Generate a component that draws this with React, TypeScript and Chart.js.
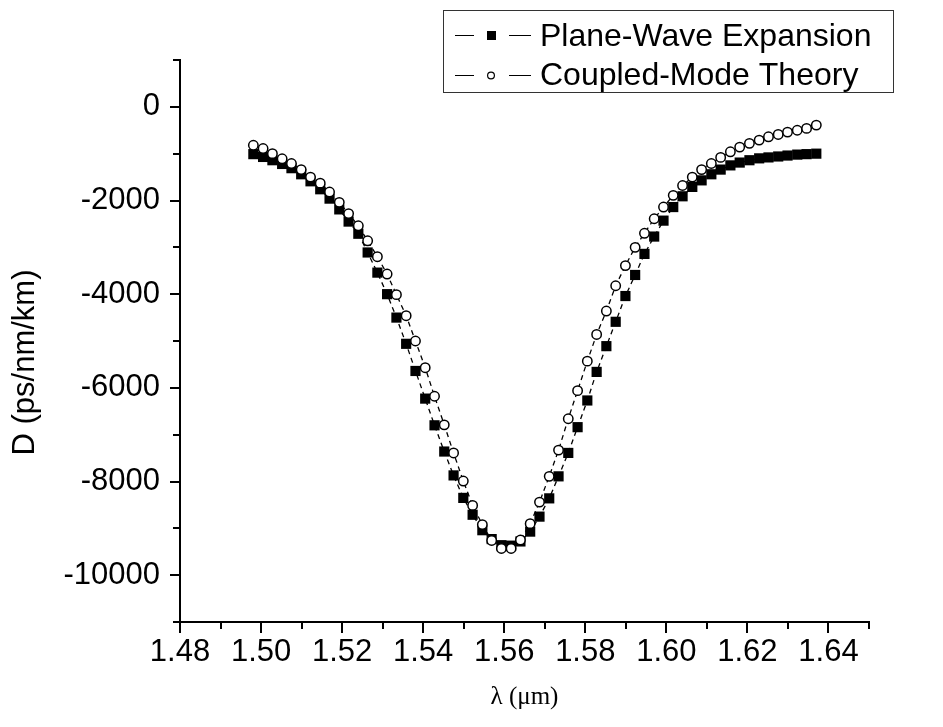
import React, { useEffect, useRef } from 'react';
import { Chart, registerables } from 'chart.js';

Chart.register(...registerables);

// Wavelength grid (µm)
const wavelength = [
  1.4981, 1.5005, 1.5028, 1.5052, 1.5075, 1.5099, 1.5122, 1.5146, 1.5169, 1.5193,
  1.5216, 1.5240, 1.5263, 1.5287, 1.5311, 1.5334, 1.5358, 1.5381, 1.5405, 1.5428,
  1.5452, 1.5475, 1.5499, 1.5522, 1.5546, 1.5569, 1.5593, 1.5617, 1.5640, 1.5664,
  1.5687, 1.5711, 1.5734, 1.5758, 1.5781, 1.5805, 1.5828, 1.5852, 1.5875, 1.5899,
  1.5923, 1.5946, 1.5970, 1.5993, 1.6017, 1.6040, 1.6064, 1.6087, 1.6111, 1.6134,
  1.6158, 1.6181, 1.6205, 1.6229, 1.6252, 1.6276, 1.6299, 1.6323, 1.6346, 1.6370,
];

// Plane-Wave Expansion dispersion (ps/nm/km)
const pweValues = [
  -1010, -1070, -1140, -1220, -1310, -1440, -1590, -1760, -1960, -2190,
  -2450, -2710, -3110, -3540, -4000, -4500, -5060, -5640, -6230, -6800,
  -7360, -7870, -8350, -8710, -9040, -9230, -9360, -9370, -9280, -9070,
  -8750, -8360, -7890, -7390, -6840, -6270, -5660, -5110, -4590, -4040,
  -3590, -3140, -2770, -2430, -2140, -1910, -1710, -1570, -1440, -1340,
  -1250, -1190, -1140, -1100, -1080, -1060, -1040, -1020, -1010, -1000,
];

// Coupled-Mode Theory dispersion (ps/nm/km)
const cmtValues = [
  -820, -890, -1000, -1110, -1210, -1340, -1500, -1630, -1820, -2040,
  -2280, -2540, -2860, -3200, -3570, -4010, -4460, -5000, -5570, -6180,
  -6790, -7390, -7990, -8510, -8920, -9260, -9430, -9430, -9250, -8900,
  -8440, -7890, -7330, -6660, -6060, -5430, -4860, -4360, -3820, -3390,
  -3000, -2700, -2390, -2140, -1890, -1680, -1500, -1340, -1210, -1080,
  -960, -860, -780, -710, -640, -590, -540, -500, -460, -390,
];

const seriesNames = ['Plane-Wave Expansion', 'Coupled-Mode Theory'];
const xTitle = 'λ (μm)';
const yTitle = 'D (ps/nm/km)';
const xRange = [1.48, 1.65];
const yRange = [-11000, 1000];

const SANS = '"Liberation Sans", Arial, sans-serif';
const SERIF = '"Liberation Serif", "Times New Roman", serif';

const isMajorX = (v: number) => Math.round(v * 100) % 2 === 0;
const isMajorY = (v: number) => Math.round(v) % 2000 === 0;

const tickMarksPlugin = {
  id: 'tickMarks',
  afterDraw(chart: any) {
    const ctx = chart.ctx;
    const xs = chart.scales.x;
    const ys = chart.scales.y;
    ctx.save();
    ctx.strokeStyle = '#000';
    ctx.lineWidth = 2;
    xs.ticks.forEach((t: any) => {
      const px = Math.round(xs.getPixelForValue(t.value));
      const len = isMajorX(t.value) ? 11 : 7;
      ctx.beginPath();
      ctx.moveTo(px, xs.top);
      ctx.lineTo(px, xs.top + len);
      ctx.stroke();
    });
    ys.ticks.forEach((t: any) => {
      const py = Math.round(ys.getPixelForValue(t.value));
      const len = isMajorY(t.value) ? 10 : 7;
      ctx.beginPath();
      ctx.moveTo(ys.right, py);
      ctx.lineTo(ys.right - len, py);
      ctx.stroke();
    });
    ctx.restore();
  },
};

const legendPlugin = {
  id: 'customLegend',
  afterDraw(chart: any) {
    const ctx = chart.ctx;
    const ds = chart.data.datasets;
    const box = { x: 443.5, y: 10.5, w: 450, h: 82 };
    ctx.save();
    ctx.fillStyle = '#fff';
    ctx.fillRect(box.x, box.y, box.w, box.h);
    ctx.strokeStyle = '#333';
    ctx.lineWidth = 1;
    ctx.strokeRect(box.x, box.y, box.w, box.h);
    const rows = [ds[1], ds[0]]; // PWE first, CMT second
    const rowY = [35, 75];
    const baselines = [45.5, 85];
    rows.forEach((d: any, i: number) => {
      const y = rowY[i];
      ctx.strokeStyle = '#000';
      ctx.lineWidth = 1;
      ctx.beginPath();
      ctx.moveTo(455, y + 0.5);
      ctx.lineTo(474, y + 0.5);
      ctx.moveTo(509, y + 0.5);
      ctx.lineTo(531, y + 0.5);
      ctx.stroke();
      if (d.pointStyle === 'rect') {
        ctx.fillStyle = '#000';
        ctx.fillRect(487, y - 4, 9, 9);
      } else {
        ctx.beginPath();
        ctx.arc(491, y + 0.5, 3.4, 0, Math.PI * 2);
        ctx.fillStyle = '#fff';
        ctx.fill();
        ctx.lineWidth = 1.2;
        ctx.strokeStyle = '#000';
        ctx.stroke();
      }
      ctx.fillStyle = '#000';
      ctx.font = `32px ${SANS}`;
      ctx.textBaseline = 'alphabetic';
      ctx.textAlign = 'left';
      ctx.fillText(d.label, 540, baselines[i]);
    });
    ctx.restore();
  },
};

export default function App() {
  const ref = useRef<HTMLCanvasElement>(null);

  useEffect(() => {
    const pwe = wavelength.map((x, i) => ({ x, y: pweValues[i] }));
    const cmt = wavelength.map((x, i) => ({ x, y: cmtValues[i] }));
    const chart = new Chart(ref.current as HTMLCanvasElement, {
      type: 'line',
      data: {
        datasets: [
          {
            label: seriesNames[1],
            data: cmt,
            order: 0,
            borderColor: '#000',
            borderWidth: 1.3,
            borderDash: [5, 4],
            pointStyle: 'circle',
            pointRadius: 4.7,
            pointBackgroundColor: '#fff',
            pointBorderColor: '#000',
            pointBorderWidth: 1.5,
            tension: 0,
            fill: false,
          },
          {
            label: seriesNames[0],
            data: pwe,
            order: 1,
            borderColor: '#000',
            borderWidth: 1.3,
            borderDash: [5, 4],
            pointStyle: 'rect',
            pointRadius: 7.2,
            pointBackgroundColor: '#000',
            pointBorderColor: '#000',
            pointBorderWidth: 0,
            tension: 0,
            fill: false,
          },
        ],
      },
      options: {
        animation: false,
        responsive: true,
        maintainAspectRatio: false,
        layout: { padding: { top: 60, right: 74, left: 0, bottom: 0 } },
        plugins: {
          legend: { display: false },
          tooltip: { enabled: false },
        },
        scales: {
          x: {
            type: 'linear',
            min: xRange[0],
            max: xRange[1],
            grid: { display: false, drawTicks: false, tickLength: 0 },
            border: { display: true, color: '#000', width: 2 },
            ticks: {
              stepSize: 0.01,
              autoSkip: false,
              maxRotation: 0,
              padding: 12,
              color: '#000',
              font: { family: SANS, size: 31 },
              callback: (v: any) => (isMajorX(Number(v)) ? Number(v).toFixed(2) : ''),
            },
            title: {
              display: true,
              text: xTitle,
              color: '#000',
              font: { family: SERIF, size: 25 },
              padding: { top: 0, bottom: 15 },
            },
            afterFit: (s: any) => {
              s.height = 105;
            },
          },
          y: {
            type: 'linear',
            min: yRange[0],
            max: yRange[1],
            grid: { display: false, drawTicks: false, tickLength: 0 },
            border: { display: true, color: '#000', width: 2 },
            ticks: {
              stepSize: 1000,
              autoSkip: false,
              padding: 20,
              color: '#000',
              font: { family: SANS, size: 31 },
              callback: (v: any) => (isMajorY(Number(v)) ? String(Math.round(Number(v))) : ''),
            },
            title: {
              display: true,
              text: yTitle + '     ',
              color: '#000',
              font: { family: SANS, size: 31 },
              padding: { top: 7, bottom: 0 },
            },
            afterFit: (s: any) => {
              s.width = 180;
            },
          },
        },
      },
      plugins: [tickMarksPlugin, legendPlugin],
    } as any);
    return () => chart.destroy();
  }, []);

  return (
    <div style={{ position: 'absolute', left: 0, top: 0, width: 943, height: 727, background: '#fff' }}>
      <canvas ref={ref} />
    </div>
  );
}
